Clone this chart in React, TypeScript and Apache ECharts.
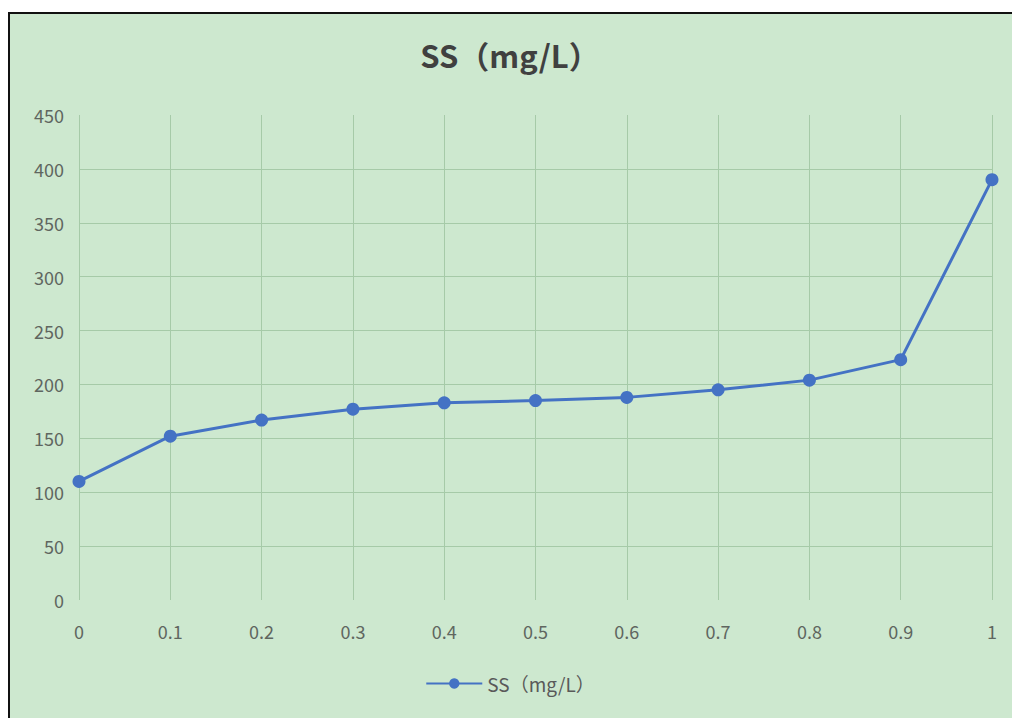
import React, { useEffect, useRef } from "react";
import * as echarts from "echarts";

const titleText = "SS（mg/L）";
const seriesName = "SS（mg/L）";
const xCategories = ["0", "0.1", "0.2", "0.3", "0.4", "0.5", "0.6", "0.7", "0.8", "0.9", "1"];
const ssValues = [110, 152, 167, 177, 183, 185, 188, 195, 204, 223, 390];
const yMin = 0;
const yMax = 450;
const yInterval = 50;

const FONT = "'Noto Sans CJK SC', 'Noto Sans', sans-serif";
const GRID_COLOR = "#a6caa8";

export default function App() {
  const ref = useRef<HTMLDivElement>(null);

  useEffect(() => {
    if (!ref.current) return;
    const chart = echarts.init(ref.current, null, { renderer: "svg" });
    const yLineColors = [];
    for (let v = yMin; v <= yMax; v += yInterval) {
      yLineColors.push(v === yMin || v === yMax ? "rgba(0,0,0,0)" : GRID_COLOR);
    }
    chart.setOption({
      animation: false,
      backgroundColor: "transparent",
      title: {
        text: titleText,
        left: "center",
        top: 22,
        textStyle: {
          fontFamily: FONT,
          fontSize: 31,
          fontWeight: "bold",
          color: "#404040",
        },
      },
      grid: {
        left: 71,
        right: 20,
        top: 103,
        bottom: 118,
        containLabel: false,
      },
      legend: {
        bottom: 20,
        left: "center",
        itemWidth: 56,
        itemHeight: 13,
        itemGap: 10,
        textStyle: { fontFamily: FONT, fontSize: 19, color: "#595959" },
        data: [seriesName],
      },
      xAxis: {
        type: "category",
        data: xCategories,
        boundaryGap: false,
        axisLine: { show: false },
        axisTick: { show: false },
        axisLabel: {
          margin: 22,
          fontFamily: FONT,
          fontSize: 18,
          color: "#5f6660",
        },
        splitLine: { show: true, lineStyle: { color: GRID_COLOR, width: 1 } },
      },
      yAxis: {
        type: "value",
        min: yMin,
        max: yMax,
        interval: yInterval,
        axisLine: { show: false },
        axisTick: { show: false },
        axisLabel: {
          margin: 15,
          fontFamily: FONT,
          fontSize: 18,
          color: "#5f6660",
        },
        splitLine: { show: true, lineStyle: { color: yLineColors, width: 1 } },
      },
      series: [
        {
          name: seriesName,
          type: "line",
          data: ssValues,
          symbol: "circle",
          symbolSize: 13,
          lineStyle: { color: "#4472c4", width: 3 },
          itemStyle: { color: "#4472c4" },
        },
      ],
    });
    return () => chart.dispose();
  }, []);

  return (
    <div
      style={{
        position: "fixed",
        left: 0,
        top: 0,
        width: 1012,
        height: 718,
        background: "#ffffff",
        overflow: "hidden",
      }}
    >
      <div
        style={{
          position: "absolute",
          left: 8,
          top: 12,
          width: 1010,
          height: 712,
          boxSizing: "border-box",
          borderLeft: "2px solid #111",
          borderTop: "2px solid #111",
          background: "#cde8cf",
        }}
      >
        <div
          ref={ref}
          style={{ position: "absolute", left: -2, top: -2, width: 1004, height: 706 }}
        />
      </div>
    </div>
  );
}
